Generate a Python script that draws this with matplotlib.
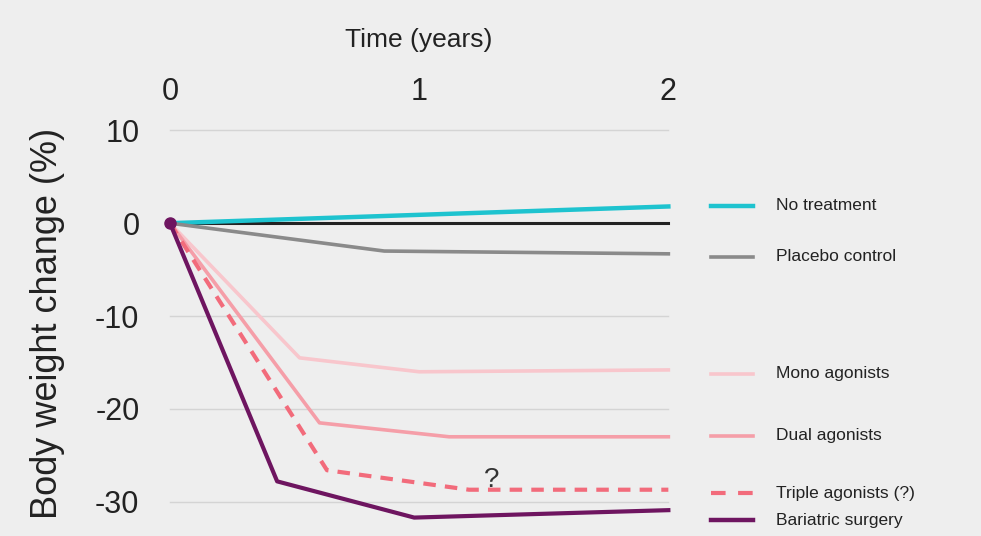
import matplotlib.pyplot as plt

plt.rcParams['font.family'] = ['Liberation Sans', 'DejaVu Sans']

# data
years = [0, 1, 2]
no_treat_x = [0, 2]
no_treat_y = [0, 1.8]
placebo_x = [0, 0.86, 2]
placebo_y = [0, -3.0, -3.3]
mono_x = [0, 0.52, 1.0, 2]
mono_y = [0, -14.5, -16.0, -15.8]
dual_x = [0, 0.6, 1.12, 2]
dual_y = [0, -21.5, -23.0, -23.0]
triple_x = [0, 0.63, 1.2, 2]
triple_y = [0, -26.6, -28.7, -28.7]
bariatric_x = [0, 0.43, 0.98, 2]
bariatric_y = [0, -27.8, -31.7, -30.9]
yticks = [10, 0, -10, -20, -30]

labels = ['No treatment', 'Placebo control', 'Mono agonists',
          'Dual agonists', 'Triple agonists (?)', 'Bariatric surgery']
legend_y = [1.9, -3.6, -16.2, -22.9, -29.1, -32.0]

bg = '#eeeeee'
c_cyan = '#1ec3cf'
c_gray = '#8a8a8a'
c_mono = '#f8c6cc'
c_dual = '#f59ea8'
c_triple = '#f26b7b'
c_bari = '#6e1560'

fig = plt.figure(figsize=(9.81, 5.36), dpi=100, facecolor=bg)
ax = fig.add_axes([0.1733, 0.0205, 0.508, 0.7537])
ax.set_facecolor(bg)
ax.set_xlim(0, 2)
ax.set_ylim(-32.5, 11)

for s in ax.spines.values():
    s.set_visible(False)
for t in yticks:
    if t != 0:
        ax.plot([0, 2], [t, t], color='#d4d4d4', lw=1.0, zorder=1, clip_on=False)

ax.plot([0, 2], [0, 0], color='#222222', lw=2.2, zorder=2, clip_on=False)
ax.plot(no_treat_x, no_treat_y, color=c_cyan, lw=3.2, zorder=3, clip_on=False)
ax.plot(placebo_x, placebo_y, color=c_gray, lw=2.6, zorder=3, clip_on=False)
ax.plot(mono_x, mono_y, color=c_mono, lw=2.6, zorder=3, clip_on=False)
ax.plot(dual_x, dual_y, color=c_dual, lw=2.6, zorder=3, clip_on=False)
ax.plot(triple_x, triple_y, color=c_triple, lw=3.0, ls=(0, (3, 2.2)), zorder=3, clip_on=False)
ax.plot(bariatric_x, bariatric_y, color=c_bari, lw=3.0, zorder=4, clip_on=False)
ax.plot([0], [0], 'o', color='#6e1560', ms=8, zorder=5, clip_on=False)
ax.text(1.29, -27.7, '?', fontsize=20, ha='center', va='center', color='#333333', zorder=6)

ax.set_xticks(years)
ax.set_xticklabels([str(y) for y in years])
ax.xaxis.tick_top()
ax.xaxis.set_label_position('top')
ax.set_yticks(yticks)
ax.set_yticklabels([str(t) for t in yticks])
ax.tick_params(length=0, labelsize=22, colors='#222222', pad=22)
ax.tick_params(axis='x', pad=10)
ax.set_xlabel('Time (years)', fontsize=19, labelpad=22, color='#222222')
ax.set_ylabel('Body weight change (%)', fontsize=26, labelpad=22, color='#222222')

# legend drawn by hand, each entry beside its line end
styles = [dict(color=c_cyan, lw=3.2), dict(color=c_gray, lw=2.6),
          dict(color=c_mono, lw=2.6), dict(color=c_dual, lw=2.6),
          dict(color=c_triple, lw=3.0, ls=(0, (3.5, 3))), dict(color=c_bari, lw=3.2)]
for lab, yy, st in zip(labels, legend_y, styles):
    ax.plot([2.17, 2.34], [yy, yy], clip_on=False, **st)
    ax.text(2.43, yy, lab, fontsize=12.5, va='center', ha='left', color='#222222')

fig.savefig('out.png', dpi=100, facecolor=bg)
